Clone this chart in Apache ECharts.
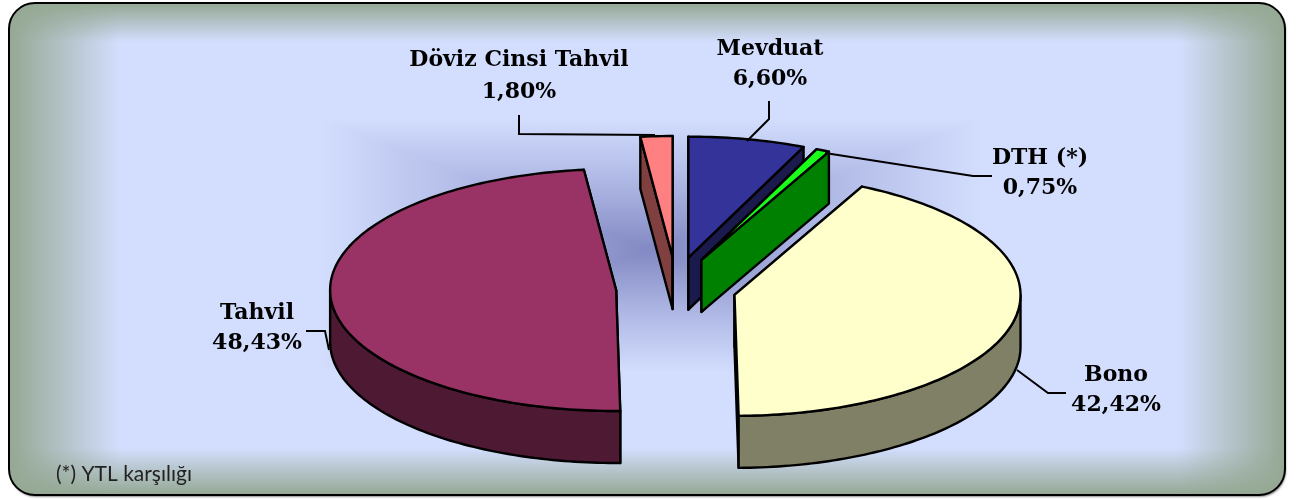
<!DOCTYPE html>
<html>
<head>
<meta charset="utf-8">
<title>Borç stoku</title>
<script src="https://cdn.jsdelivr.net/npm/echarts@6/dist/echarts.min.js"></script>
<style>
html, body { margin: 0; padding: 0; background: #fff; }
#chart { width: 1299px; height: 500px; }
</style>
</head>
<body>
<div id="chart"></div>
<script>
const categories = ['Mevduat', 'DTH (*)', 'Bono', 'Tahvil', 'Döviz Cinsi Tahvil'];
const shares = [6.60, 0.75, 42.42, 48.43, 1.80];
const footnote = '(*) YTL karşılığı';

const topColors = ['#333399', '#19FF19', '#FFFFCC', '#993366', '#FF8080'];
const sideColors = ['#1A1A4D', '#008000', '#808066', '#4D1933', '#804040'];

// pie geometry: a flattened ellipse, each slice pushed out along its middle angle
const pie = { cx: 676, cy: 288, rx: 286, ry: 121, depth: 52, explodeX: 60, explodeY: 31 };
const total = shares.reduce((a, b) => a + b, 0);

const rad = (share) => share / total * Math.PI * 2;

function rim(apex, t, dy) {
    return [apex[0] + Math.sin(t) * pie.rx, apex[1] - Math.cos(t) * pie.ry + (dy || 0)];
}

function arc(apex, a0, a1, dy) {
    const pts = [];
    const n = Math.max(2, Math.ceil((a1 - a0) / 0.02));
    for (let i = 0; i <= n; i++) {
        pts.push(rim(apex, a0 + (a1 - a0) * i / n, dy));
    }
    return pts;
}

function face(points, color) {
    return {
        type: 'polygon',
        shape: { points: points },
        style: { fill: color, stroke: '#000', lineWidth: 2.4, lineJoin: 'round' }
    };
}

function cutFace(apex, t, color) {
    const d = pie.depth;
    return face([apex, rim(apex, t), rim(apex, t, d), [apex[0], apex[1] + d]], color);
}

function renderSlice(params, api) {
    const i = params.dataIndex;
    const before = shares.slice(0, i).reduce((a, b) => a + b, 0);
    const a0 = rad(before);
    const a1 = a0 + rad(api.value(0));
    const mid = (a0 + a1) / 2;
    const apex = [
        pie.cx + Math.sin(mid) * pie.explodeX,
        pie.cy - Math.cos(mid) * pie.explodeY
    ];
    const children = [cutFace(apex, a0, sideColors[i]), cutFace(apex, a1, sideColors[i])];
    // outer wall only shows on the front half
    const w0 = Math.max(a0, Math.PI / 2);
    const w1 = Math.min(a1, Math.PI * 1.5);
    if (w1 > w0) {
        const wall = arc(apex, w0, w1, 0).concat(arc(apex, w0, w1, pie.depth).reverse());
        children.push(face(wall, sideColors[i]));
    }
    children.push(face([apex].concat(arc(apex, a0, a1, 0)), topColors[i]));
    return { type: 'group', children: children };
}

// backdrop
const lavender = '#D3DEFE';
const edge = '#94A893';
const box = { x: 9, y: 3, w: 1276, h: 492, r: 26 };
const inner = { l: 120, t: 42, r: 1178, b: 448 };

function band(x, y, w, h, r, x2, y2, reverse) {
    return {
        type: 'rect',
        silent: true,
        shape: { x: x, y: y, width: w, height: h, r: r },
        style: {
            fill: new echarts.graphic.LinearGradient(0, 0, x2, y2, [
                { offset: 0, color: reverse ? 'rgba(148,168,147,0)' : edge },
                { offset: 1, color: reverse ? edge : 'rgba(148,168,147,0)' }
            ])
        }
    };
}

// rectangular "from centre" gradient behind the pie, built from four triangles
const halo = { l: 320, t: 118, r: 982, b: 372, x: 652, y: 250 };
const haloCore = '#8289C3';

function haloPart(points, x, y, x2, y2) {
    const fill = new echarts.graphic.LinearGradient(x, y, x2, y2, [
        { offset: 0, color: lavender },
        { offset: 0.5, color: '#ADB6E3' },
        { offset: 1, color: haloCore }
    ], true);
    return {
        type: 'polygon',
        silent: true,
        shape: { points: points },
        style: { fill: fill, stroke: fill, lineWidth: 1 }
    };
}

function label(text, x, y) {
    return {
        type: 'text',
        silent: true,
        x: x,
        y: y,
        style: {
            text: text,
            fill: '#000',
            font: 'bold 22px "DejaVu Serif"',
            align: 'center',
            verticalAlign: 'middle'
        }
    };
}

function leader(points) {
    return {
        type: 'polyline',
        silent: true,
        z: 5,
        shape: { points: points },
        style: { fill: 'none', stroke: '#000', lineWidth: 2 }
    };
}

const pct = shares.map(v => v.toFixed(2).replace('.', ',') + '%');
const labelAt = [[770, 49, 79], [1040, 158, 188], [1116, 375, 405], [257, 313, 343], [519, 60, 92]];
const labels = [];
categories.forEach((name, i) => {
    labels.push(label(name, labelAt[i][0], labelAt[i][1]));
    labels.push(label(pct[i], labelAt[i][0], labelAt[i][2]));
});

const chart = echarts.init(document.getElementById('chart'));
chart.setOption({
    animation: false,
    backgroundColor: '#fff',
    graphic: {
        elements: [
            {
                type: 'group',
                z: -10,
                silent: true,
                children: [
                    {
                        type: 'rect',
                        shape: { x: box.x, y: box.y, width: box.w, height: box.h, r: box.r },
                        style: { fill: lavender, shadowColor: 'rgba(0,0,0,0.45)', shadowBlur: 2, shadowOffsetX: 1, shadowOffsetY: 2 }
                    },
                    band(box.x, box.y, inner.l - box.x, box.h, [box.r, 0, 0, box.r], 1, 0),
                    band(inner.r, box.y, box.x + box.w - inner.r, box.h, [0, box.r, box.r, 0], 1, 0, true),
                    band(box.x, box.y, box.w, inner.t - box.y, [box.r, box.r, 0, 0], 0, 1),
                    band(box.x, inner.b, box.w, box.y + box.h - inner.b, [0, 0, box.r, box.r], 0, 1, true),
                    haloPart([[halo.l, halo.t], [halo.r, halo.t], [halo.x, halo.y]], 0, halo.t, 0, halo.y),
                    haloPart([[halo.l, halo.b], [halo.r, halo.b], [halo.x, halo.y]], 0, halo.b, 0, halo.y),
                    haloPart([[halo.l, halo.t], [halo.l, halo.b], [halo.x, halo.y]], halo.l, 0, halo.x, 0),
                    haloPart([[halo.r, halo.t], [halo.r, halo.b], [halo.x, halo.y]], halo.r, 0, halo.x, 0),
                    {
                        type: 'rect',
                        shape: { x: box.x, y: box.y, width: box.w, height: box.h, r: box.r },
                        style: { fill: 'none', stroke: '#000', lineWidth: 2 }
                    }
                ]
            },
            leader([[769, 101], [769, 119], [747, 141]]),
            leader([[519, 115], [519, 134], [655, 135]]),
            leader([[825, 153], [973, 176], [992, 176]]),
            leader([[1017, 370], [1048, 393], [1066, 393]]),
            leader([[306, 331], [325, 331], [329, 350]]),
            ...labels,
            {
                type: 'text',
                silent: true,
                x: 56,
                y: 474,
                style: { text: footnote, fill: '#222', font: '21px Lato', verticalAlign: 'middle' }
            }
        ]
    },
    series: [
        {
            type: 'custom',
            coordinateSystem: 'none',
            silent: true,
            data: shares,
            renderItem: renderSlice
        }
    ]
});
</script>
</body>
</html>
